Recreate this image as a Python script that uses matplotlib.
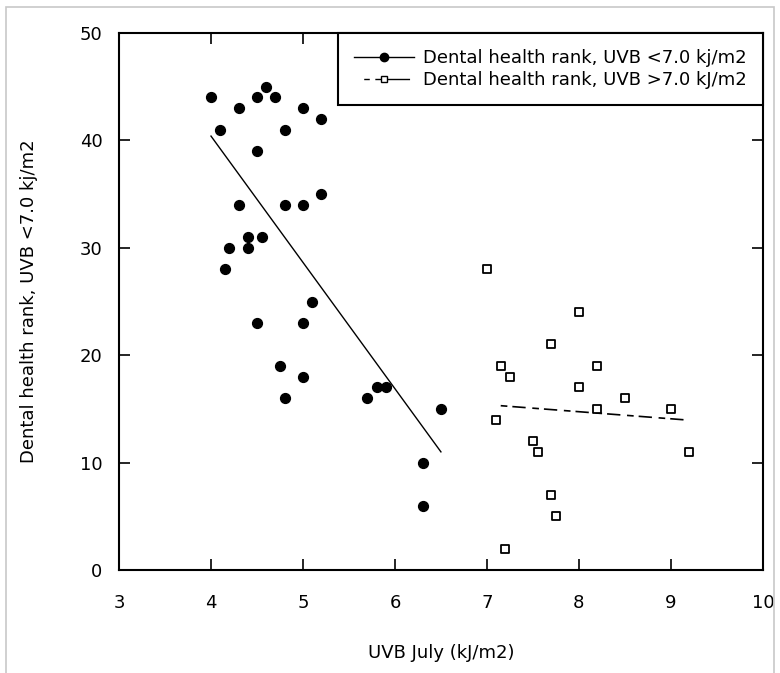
import matplotlib
matplotlib.use('Agg')
import matplotlib.pyplot as plt
from matplotlib.lines import Line2D
from matplotlib.patches import Rectangle

plt.rcParams['font.family'] = ['DejaVu Sans']

# Точки UVB < 7.0
low_uvb = [4.0, 4.1, 4.3, 4.5, 4.6, 4.7, 5.0, 5.2, 4.8, 4.5, 4.3, 4.8, 5.0, 5.2,
           4.4, 4.55, 4.2, 4.4, 4.15, 5.1, 4.5, 5.0, 4.75, 5.0, 4.8, 5.7, 5.8,
           5.9, 6.5, 6.3, 6.3]
low_rank = [44, 41, 43, 44, 45, 44, 43, 42, 41, 39, 34, 34, 34, 35,
            31, 31, 30, 30, 28, 25, 23, 23, 19, 18, 16, 16, 17,
            17, 15, 10, 6]

# Точки UVB > 7.0
high_uvb = [7.0, 7.15, 7.25, 7.1, 7.5, 7.55, 7.7, 7.7, 7.75, 7.2, 8.0, 8.0,
            8.2, 8.2, 8.5, 9.0, 9.2]
high_rank = [28, 19, 18, 14, 12, 11, 21, 7, 5, 2, 24, 17,
             19, 15, 16, 15, 11]

# Линии тренда (концы)
low_fit_x = [4.0, 6.5]
low_fit_y = [40.4, 11.0]
high_fit_x = [7.15, 9.2]
high_fit_y = [15.3, 13.95]

labels = ['Dental health rank, UVB <7.0 kj/m2', 'Dental health rank, UVB >7.0 kJ/m2']

fig = plt.figure(figsize=(7.8, 6.73), dpi=100)
ax = fig.add_axes([0.1526, 0.153, 0.8254, 0.798])

# серая рамка вокруг картинки
fig.patches.append(Rectangle((0.008, -0.01), 0.984, 1.0, transform=fig.transFigure,
                             fill=False, edgecolor='#c8c8c8', linewidth=1.2))

ax.scatter(low_uvb, low_rank, s=50, color='black', zorder=3)
ax.plot(low_fit_x, low_fit_y, color='black', linewidth=1.0)
ax.scatter(high_uvb, high_rank, s=30, marker='s', facecolor='white',
           edgecolor='black', linewidth=1.3, zorder=3)
ax.plot(high_fit_x, high_fit_y, color='black', linewidth=1.2, dashes=(4, 3, 8, 4))

ax.set_xlim(3, 10)
ax.set_ylim(0, 50)
ax.set_xticks(range(3, 11))
ax.set_yticks(range(0, 51, 10))
ax.tick_params(direction='in', length=8, width=1.2, top=True, right=True,
               labelsize=13)
ax.tick_params(axis='x', pad=17)
ax.tick_params(axis='y', pad=12)
for s in ax.spines.values():
    s.set_linewidth(1.5)

ax.set_xlabel('UVB July (kJ/m2)', fontsize=13, labelpad=23)
ax.set_ylabel('Dental health rank, UVB <7.0 kj/m2', fontsize=13, labelpad=30)

handles = [
    Line2D([], [], color='black', linewidth=1.0, marker='o', markersize=6),
    Line2D([], [], color='black', linewidth=1.0, linestyle=(33, (4, 4, 25, 7)),
           marker='s', markersize=5, markerfacecolor='white'),
]
leg = ax.legend(handles, labels, loc='upper right', borderaxespad=0,
                fontsize=13, fancybox=False, framealpha=1, edgecolor='black',
                handlelength=3.3, handletextpad=0.5, borderpad=0.9,
                labelspacing=0.2)
leg.get_frame().set_linewidth(1.5)

fig.savefig('out.png', dpi=100)
